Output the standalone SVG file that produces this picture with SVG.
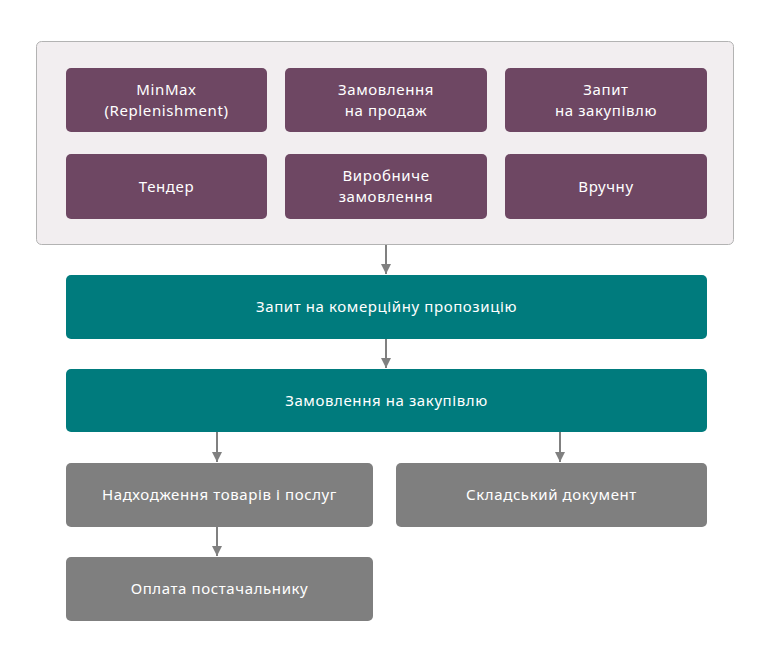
<svg xmlns="http://www.w3.org/2000/svg" width="770" height="656" viewBox="0 0 770 656">
<defs>
<marker id="ah" markerWidth="10" markerHeight="10" refX="10" refY="5" orient="auto" markerUnits="userSpaceOnUse" viewBox="0 0 10 10">
<path d="M0,0 L10,5 L0,10 Z" fill="#808080"/>
</marker>
<style>
.purple{fill:#6e4763}
.teal{fill:#007b7d}
.gray{fill:#7f7f7f}
text{font-family:"Noto Sans","Open Sans","Liberation Sans",sans-serif;font-size:15px;letter-spacing:0.6px;fill:#ffffff;text-anchor:middle}
.conn{stroke:#808080;stroke-width:2;fill:none}
</style>
</defs>
<rect width="770" height="656" fill="#ffffff"/>
<g id="container">
<rect x="36.5" y="41.5" width="697" height="203" rx="5" fill="#f2eef0" stroke="#b3b3b3" stroke-width="1"/>
</g>
<g id="minmax"><rect class="purple" x="66" y="68" width="201" height="64" rx="5"/><text x="166.5" y="95">MinMax</text><text x="166.5" y="116">(Replenishment)</text></g>
<g id="sales-order"><rect class="purple" x="285" y="68" width="202" height="64" rx="5"/><text x="386" y="95">Замовлення</text><text x="386" y="116">на продаж</text></g>
<g id="purchase-request"><rect class="purple" x="505" y="68" width="202" height="64" rx="5"/><text x="606" y="95">Запит</text><text x="606" y="116">на закупівлю</text></g>
<g id="tender"><rect class="purple" x="66" y="154" width="201" height="65" rx="5"/><text x="166.5" y="192">Тендер</text></g>
<g id="production-order"><rect class="purple" x="285" y="154" width="202" height="65" rx="5"/><text x="386" y="181">Виробниче</text><text x="386" y="202">замовлення</text></g>
<g id="manual"><rect class="purple" x="505" y="154" width="202" height="65" rx="5"/><text x="606" y="192">Вручну</text></g>
<g id="rfq"><rect class="teal" x="66" y="275" width="641" height="64" rx="5"/><text x="386.5" y="312">Запит на комерційну пропозицію</text></g>
<g id="purchase-order"><rect class="teal" x="66" y="369" width="641" height="63" rx="5"/><text x="386.5" y="406">Замовлення на закупівлю</text></g>
<g id="goods-receipt"><rect class="gray" x="66" y="463" width="307" height="64" rx="5"/><text x="219.5" y="500">Надходження товарів і послуг</text></g>
<g id="warehouse-doc"><rect class="gray" x="396" y="463" width="311" height="64" rx="5"/><text x="551.5" y="500">Складський документ</text></g>
<g id="payment"><rect class="gray" x="66" y="557" width="307" height="64" rx="5"/><text x="219.5" y="594">Оплата постачальнику</text></g>
<g id="connectors">
<line class="conn" x1="386" y1="245" x2="386" y2="274" marker-end="url(#ah)"/>
<line class="conn" x1="386" y1="339" x2="386" y2="368" marker-end="url(#ah)"/>
<line class="conn" x1="217" y1="432" x2="217" y2="462" marker-end="url(#ah)"/>
<line class="conn" x1="560" y1="432" x2="560" y2="462" marker-end="url(#ah)"/>
<line class="conn" x1="217" y1="527" x2="217" y2="556" marker-end="url(#ah)"/>
</g>
</svg>
